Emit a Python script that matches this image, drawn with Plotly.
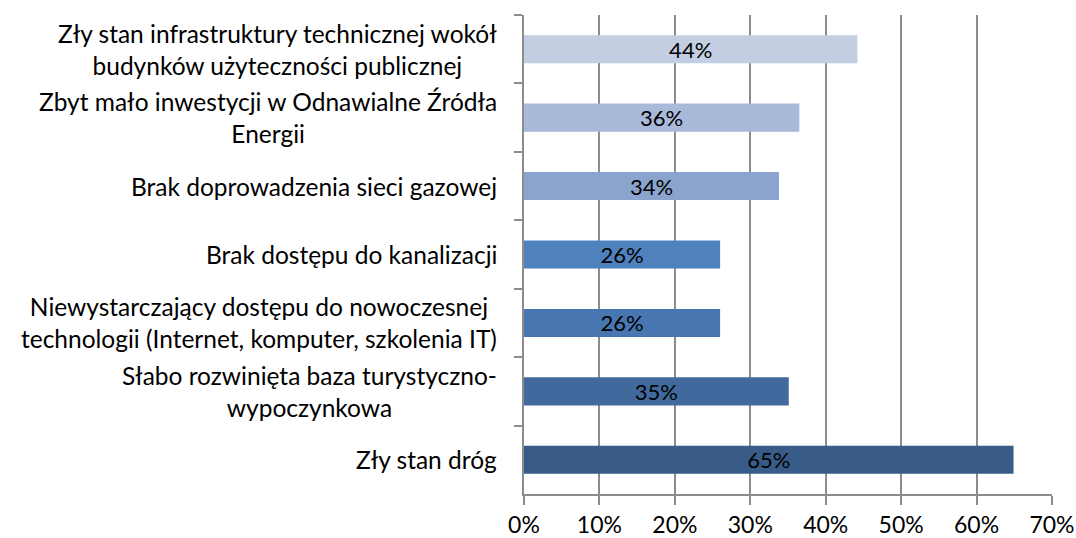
import plotly.graph_objects as go

categories = [
    "Zły stan infrastruktury technicznej wokół<br>budynków użyteczności publicznej",
    "Zbyt mało inwestycji w Odnawialne Źródła<br>Energii",
    "Brak doprowadzenia sieci gazowej",
    "Brak dostępu do kanalizacji",
    "Niewystarczający dostępu do nowoczesnej<br>technologii (Internet, komputer, szkolenia IT)",
    "Słabo rozwinięta baza turystyczno-<br>wypoczynkowa",
    "Zły stan dróg",
]
values = [0.442, 0.365, 0.338, 0.26, 0.26, 0.351, 0.649]
labels = ["44%", "36%", "34%", "26%", "26%", "35%", "65%"]
bar_colors = ["#C4CEE2", "#A9B9D9", "#8AA4CE", "#4F81BD", "#4876B0", "#41699E", "#385B87"]
x_ticks = [0, 0.1, 0.2, 0.3, 0.4, 0.5, 0.6, 0.7]
x_tick_text = ["0%", "10%", "20%", "30%", "40%", "50%", "60%", "70%"]

FONT = "Lato, Carlito, 'Open Sans', sans-serif"

fig = go.Figure()
fig.add_trace(go.Bar(
    x=values,
    y=categories,
    orientation="h",
    marker=dict(color=bar_colors, line=dict(width=0)),
    text=labels,
    textposition="inside",
    insidetextanchor="middle",
    constraintext="none",
    textfont=dict(family=FONT, size=22, color="#000000"),
    hoverinfo="skip",
))

annotations = []
for c in categories:
    annotations.append(dict(
        x=0, xref="paper", y=c, yref="y",
        text=c, showarrow=False,
        xanchor="right", yanchor="middle", align="center",
        xshift=-25,
        font=dict(family=FONT, size=24.5, color="#000000"),
    ))

fig.update_layout(
    width=1076, height=538,
    margin=dict(l=524, r=24, t=15, b=44),
    paper_bgcolor="white", plot_bgcolor="white",
    bargap=0.59,
    showlegend=False,
    annotations=annotations,
    font=dict(family=FONT, size=22, color="#000000"),
)
fig.update_xaxes(
    range=[0, 0.7],
    automargin=False,
    tickvals=x_ticks, ticktext=x_tick_text,
    showgrid=True, gridcolor="#8C8C8C", gridwidth=1.5,
    showline=True, linecolor="#8C8C8C", linewidth=1.5,
    ticks="outside", ticklen=9, tickcolor="#8C8C8C", tickwidth=1.5,
    ticklabelstandoff=1,
    tickfont=dict(family=FONT, size=23, color="#000000"),
    zeroline=False,
)
fig.update_yaxes(
    autorange="reversed",
    automargin=False,
    showticklabels=False,
    tickson="boundaries",
    ticks="outside", ticklen=8, tickcolor="#8C8C8C", tickwidth=1.5,
    showline=True, linecolor="#8C8C8C", linewidth=1.5,
    showgrid=False, zeroline=False,
)

fig.write_html(
    "out.html",
    config={"displayModeBar": False},
    post_script="document.body.style.margin='0';document.body.style.padding='0';",
)
